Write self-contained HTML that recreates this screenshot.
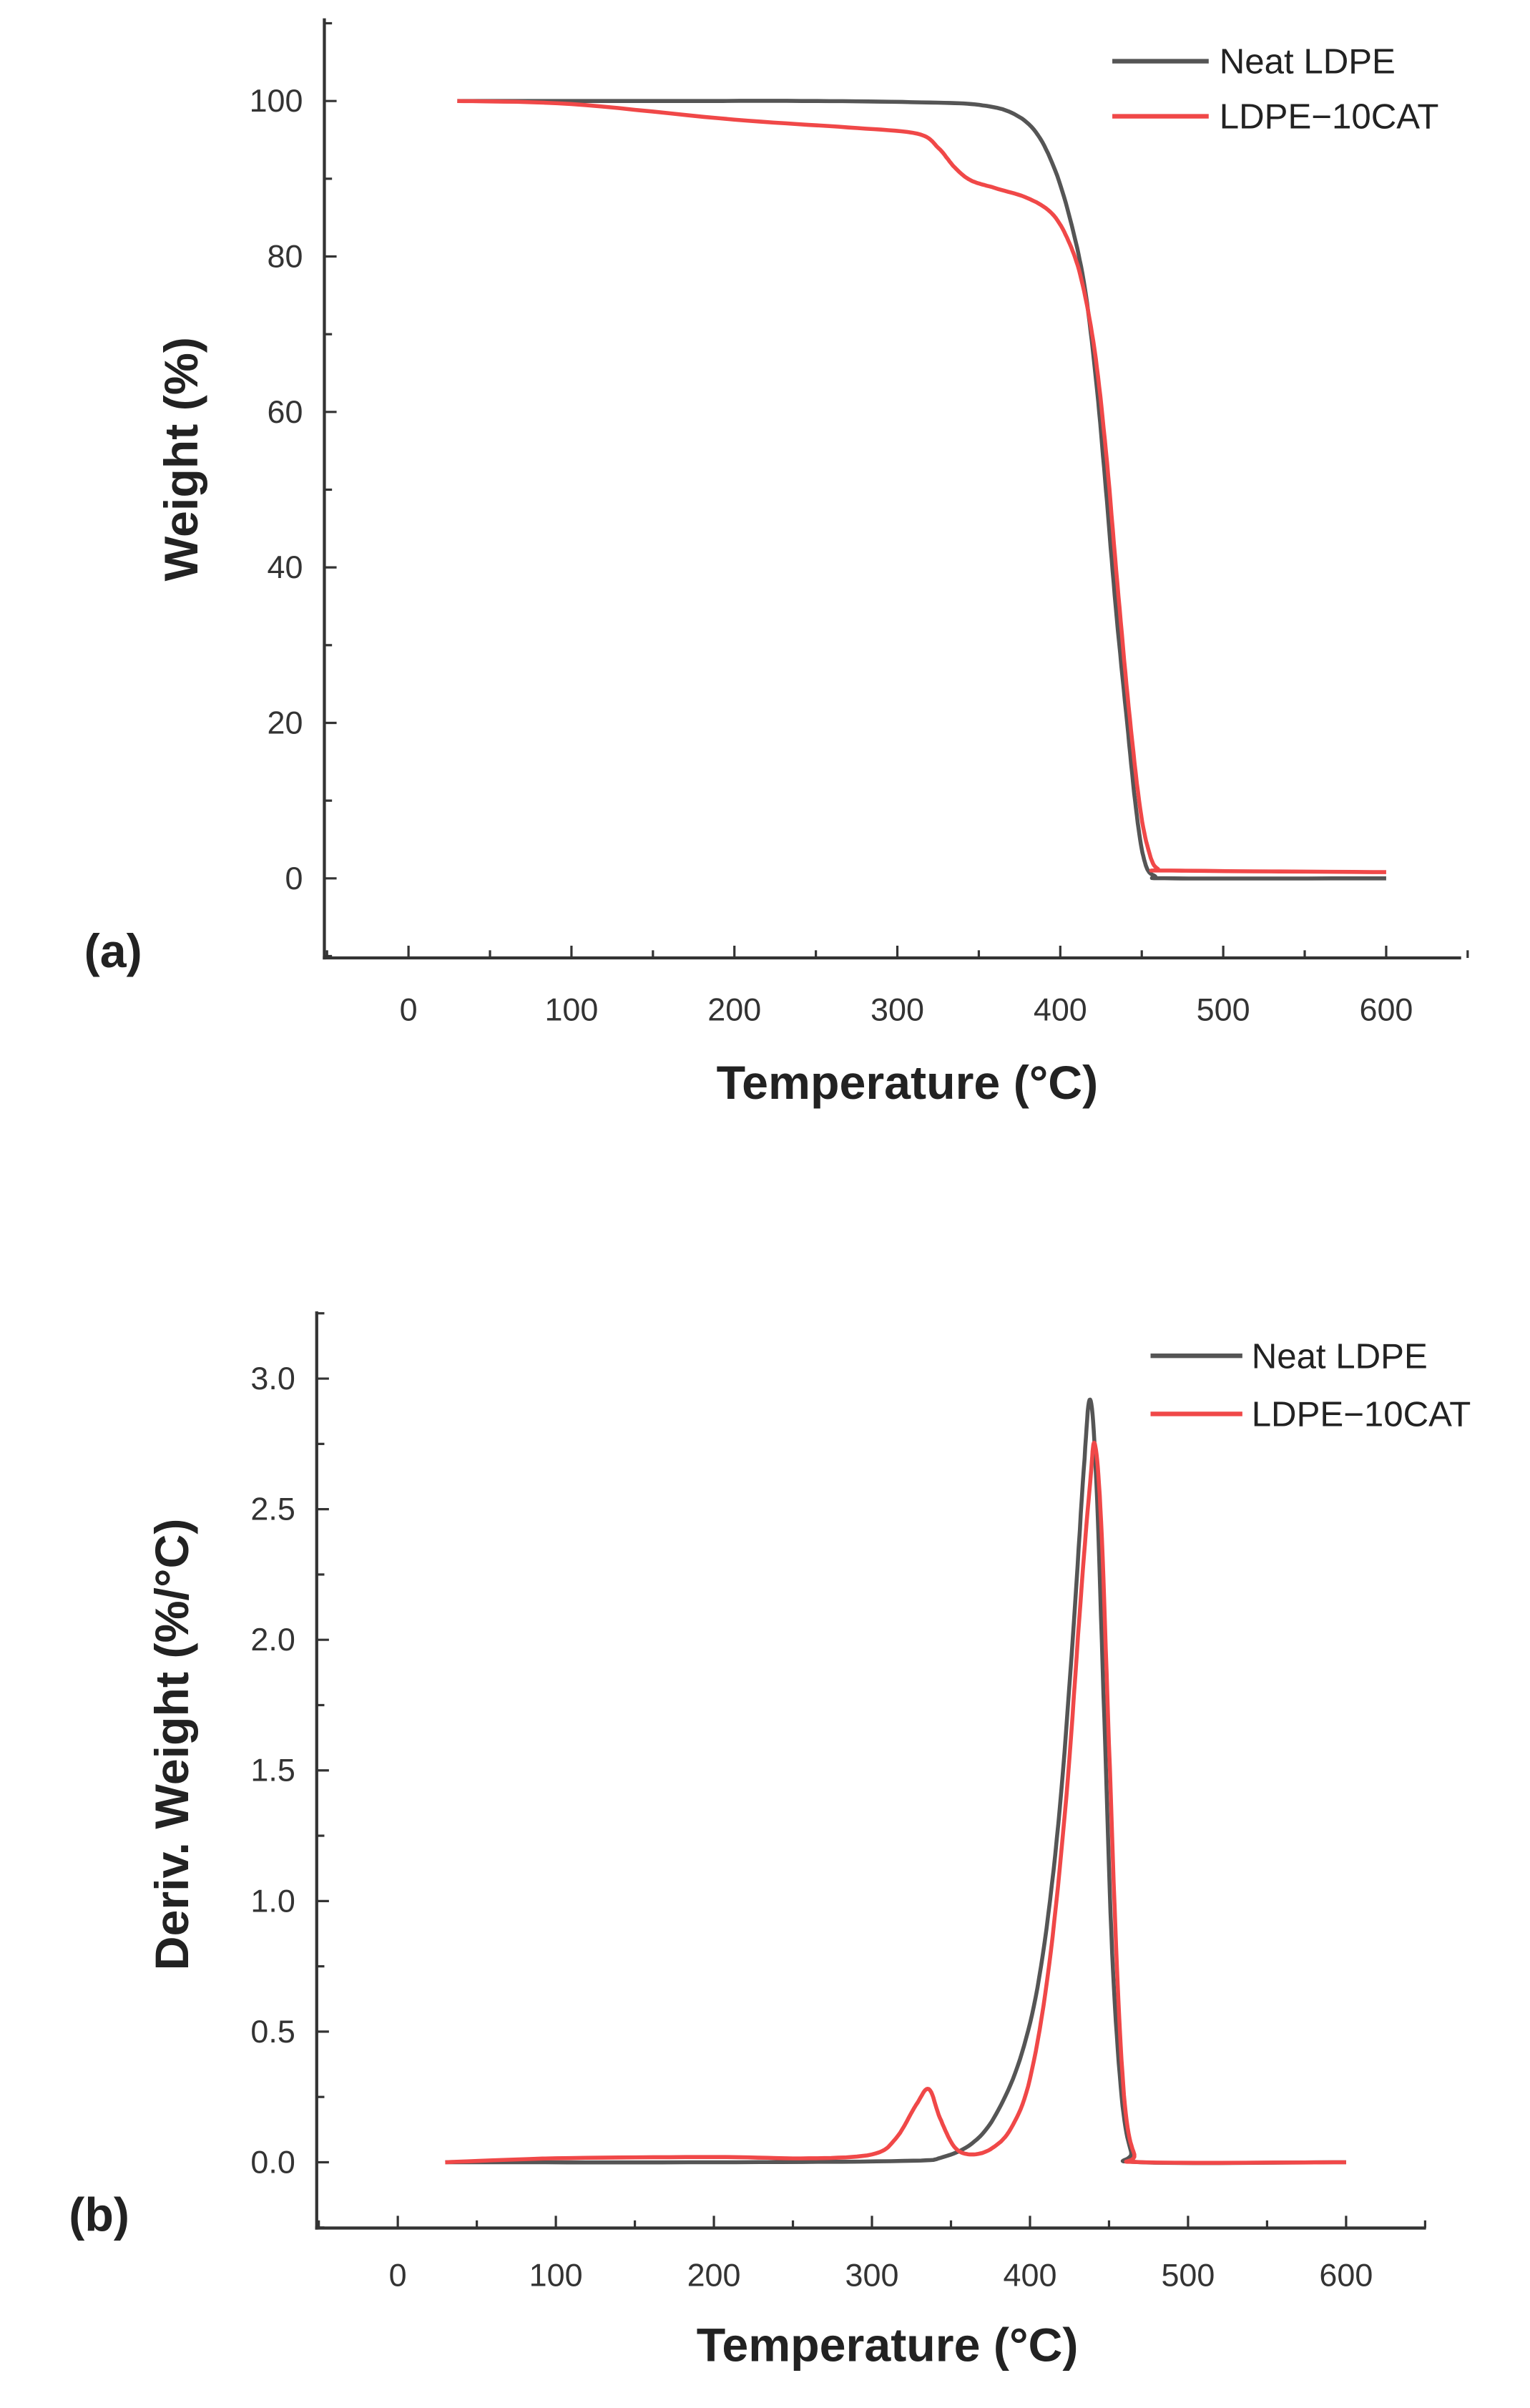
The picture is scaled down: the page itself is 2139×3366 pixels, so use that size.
<!DOCTYPE html>
<html><head><meta charset="utf-8"><style>
html,body{margin:0;padding:0;background:#fff}
svg{display:block}
text{font-family:"Liberation Sans",sans-serif;fill:#222}
.t{font-size:21px;fill:#333}
.b{font-weight:bold;font-size:31px}
.lg{font-size:23px}
</style></head><body>
<svg id="s" width="2139" height="3366" viewBox="0 0 1000 1573.6" preserveAspectRatio="none" xmlns="http://www.w3.org/2000/svg">
<rect width="1000" height="1573.6" fill="#fff"/>
<g id="g"></g>
<g stroke="#333" stroke-width="2" fill="none">
<line x1="212" y1="12" x2="212" y2="627"/>
<line x1="211" y1="626" x2="955" y2="626"/>
<line x1="207" y1="857" x2="207" y2="1457"/>
<line x1="206" y1="1456" x2="932" y2="1456"/>
</g>
<text class="b" x="118" y="300" text-anchor="middle" transform="rotate(-90 118 300)" dy="11">Weight (%)</text>
<text class="b" x="55" y="632" font-size="28">(a)</text>
<text class="b" x="593" y="718" text-anchor="middle">Temperature (°C)</text>
<text class="b" x="112" y="1140" text-anchor="middle" transform="rotate(-90 112 1140)" dy="11">Deriv. Weight (%/°C)</text>
<text class="b" x="45" y="1458" font-size="28">(b)</text>
<text class="b" x="580" y="1543" text-anchor="middle">Temperature (°C)</text>
<line x1="727" y1="40" x2="790" y2="40" stroke="#555" stroke-width="3"/>
<text class="lg" x="797" y="48">Neat LDPE</text>
<line x1="727" y1="76" x2="790" y2="76" stroke="#f04848" stroke-width="3"/>
<text class="lg" x="797" y="84">LDPE−10CAT</text>
<line x1="752" y1="886" x2="812" y2="886" stroke="#555" stroke-width="3"/>
<text class="lg" x="818" y="894">Neat LDPE</text>
<line x1="752" y1="924" x2="812" y2="924" stroke="#f04848" stroke-width="3"/>
<text class="lg" x="818" y="932">LDPE−10CAT</text>
</svg>
<script>
const NS="http://www.w3.org/2000/svg",g=document.getElementById('g');
function el(n,a,t){const e=document.createElementNS(NS,n);for(const k in a)e.setAttribute(k,a[k]);if(t!==undefined)e.textContent=t;g.appendChild(e);return e;}
for(let v=-50;v<=650;v+=50){const x=267+v*1.065;el('line',{x1:x,y1:626,x2:x,y2:v%100==0?618:621,stroke:'#333','stroke-width':1.5});
 if(v%100==0&&v>=0)el('text',{x:x,y:667,'text-anchor':'middle',class:'t'},v);}
for(let v=-10;v<=110;v+=10){const y=574-v*5.08;if(y<12)continue;el('line',{x1:212,y1:y,x2:v%20==0?220:217,y2:y,stroke:'#333','stroke-width':1.5});
 if(v%20==0&&v>=0)el('text',{x:198,y:y+7,'text-anchor':'end',class:'t'},v);}
for(let v=-50;v<=650;v+=50){const x=260+v*1.033;el('line',{x1:x,y1:1456,x2:x,y2:v%100==0?1448:1451,stroke:'#333','stroke-width':1.5});
 if(v%100==0&&v>=0)el('text',{x:x,y:1494,'text-anchor':'middle',class:'t'},v);}
for(let i=-1;i<=13;i++){const v=i*0.25,y=1413-v*170.7;if(y<857)continue;el('line',{x1:207,y1:y,x2:i%2==0?215:212,y2:y,stroke:'#333','stroke-width':1.5});
 if(i%2==0&&i>=0)el('text',{x:193,y:y+7,'text-anchor':'end',class:'t'},v.toFixed(1));}
function curve(pts,fx,fy,col){let d='';const P=pts.map(p=>[fx(p[0]),fy(p[1])]);
 for(let i=0;i<P.length-1;i++){const p0=P[Math.max(0,i-1)],p1=P[i],p2=P[i+1],p3=P[Math.min(P.length-1,i+2)];
  for(let s=0;s<=10;s++){const t=s/10,t2=t*t,t3=t2*t;
   const x=0.5*((2*p1[0])+(-p0[0]+p2[0])*t+(2*p0[0]-5*p1[0]+4*p2[0]-p3[0])*t2+(-p0[0]+3*p1[0]-3*p2[0]+p3[0])*t3);
   const y=0.5*((2*p1[1])+(-p0[1]+p2[1])*t+(2*p0[1]-5*p1[1]+4*p2[1]-p3[1])*t2+(-p0[1]+3*p1[1]-3*p2[1]+p3[1])*t3);
   d+=(d?'L':'M')+x.toFixed(1)+','+y.toFixed(1);}}
 el('path',{d:d,fill:'none',stroke:col,'stroke-width':2.6,'stroke-linejoin':'round'});}
const ax=T=>267+T*1.065,ay=W=>574-W*5.08,bx=T=>260+T*1.033,by=D=>1413-D*170.7;
curve([[30,100],[150,100],[250,100],[320,99.8],[350,99.5],[370,98.5],[385,96],[397,91],[407,84],[415,76],[422,64],[428,50],[434,35],[441,20],[447,8],[452,2],[458,0.3],[470,0],[600,0]],ax,ay,'#555');
curve([[30,100],[100,99.6],[200,97.6],[270,96.6],[312,95.8],[325,94],[335,91.5],[345,89.8],[360,88.8],[380,87.5],[395,85.5],[405,82],[413,77],[421,68],[428,55],[435,38],[442,22],[449,9],[455,3],[460,1.2],[468,1],[600,0.8]],ax,ay,'#f04848');
curve([[30,0],[200,0],[320,0.005],[345,0.02],[365,0.08],[380,0.2],[395,0.42],[407,0.75],[418,1.3],[427,2.0],[434,2.65],[438,2.92],[442,2.6],[447,1.7],[452,0.8],[458,0.25],[464,0.04],[470,0],[600,0]],bx,by,'#555');
curve([[30,0],[100,0.015],[200,0.02],[260,0.015],[300,0.03],[315,0.09],[328,0.22],[336,0.28],[343,0.17],[352,0.06],[362,0.03],[375,0.05],[388,0.13],[400,0.32],[412,0.75],[423,1.4],[432,2.15],[438,2.6],[441,2.75],[445,2.45],[450,1.6],[455,0.75],[460,0.22],[466,0.03],[472,0],[600,0]],bx,by,'#f04848');
</script>
</body></html>
